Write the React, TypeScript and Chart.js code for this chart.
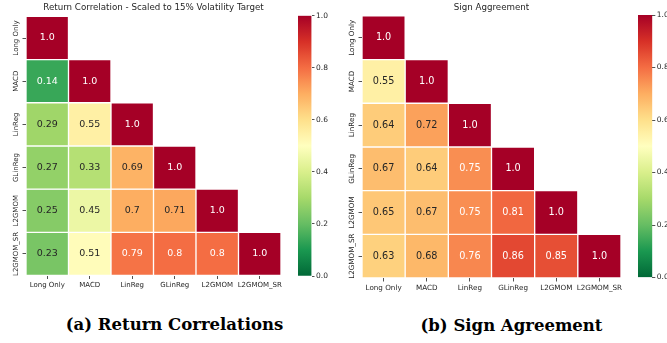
import React, { useEffect, useRef } from 'react';
import { Chart, registerables } from 'chart.js';

Chart.register(...registerables);

// Strategy names shared by both matrices (rows top→bottom, columns left→right)
const strategies = ['Long Only', 'MACD', 'LinReg', 'GLinReg', 'L2GMOM', 'L2GMOM_SR'];

// Lower-triangular matrices, one row per strategy
const returnCorrelation = [
  [1.0],
  [0.14, 1.0],
  [0.29, 0.55, 1.0],
  [0.27, 0.33, 0.69, 1.0],
  [0.25, 0.45, 0.7, 0.71, 1.0],
  [0.23, 0.51, 0.79, 0.8, 0.8, 1.0],
];

const signAgreement = [
  [1.0],
  [0.55, 1.0],
  [0.64, 0.72, 1.0],
  [0.67, 0.64, 0.75, 1.0],
  [0.65, 0.67, 0.75, 0.81, 1.0],
  [0.63, 0.68, 0.76, 0.86, 0.85, 1.0],
];

const colorbarTicks = [0, 0.2, 0.4, 0.6, 0.8, 1.0];

// RdYlGn anchor colours, used reversed (low = green, high = red)
const rdYlGn = [
  '#a50026', '#d73027', '#f46d43', '#fdae61', '#fee08b', '#ffffbf',
  '#d9ef8b', '#a6d96a', '#66bd63', '#1a9850', '#006837',
];

const TEXT_DARK = '#262626';
const SANS = "'DejaVu Sans', sans-serif";

function hexToRgb(h: string): number[] {
  return [parseInt(h.slice(1, 3), 16), parseInt(h.slice(3, 5), 16), parseInt(h.slice(5, 7), 16)];
}

function rdYlGnR(v: number): number[] {
  const t = 1 - Math.min(1, Math.max(0, v));
  const pos = t * (rdYlGn.length - 1);
  const i = Math.min(rdYlGn.length - 2, Math.floor(pos));
  const f = pos - i;
  const a = hexToRgb(rdYlGn[i]);
  const b = hexToRgb(rdYlGn[i + 1]);
  return a.map((c, k) => c + (b[k] - c) * f);
}

const toCss = (c: number[]) => `rgb(${c.map((x) => Math.round(x)).join(',')})`;

// Light cells get dark text, dark cells get white text
function textColorFor(c: number[]): string {
  const lin = c.map((x) => {
    const s = x / 255;
    return s <= 0.03928 ? s / 12.92 : Math.pow((s + 0.055) / 1.055, 2.4);
  });
  const lum = 0.2126 * lin[0] + 0.7152 * lin[1] + 0.0722 * lin[2];
  return lum > 0.408 ? TEXT_DARK : '#ffffff';
}

const fmt = (v: number) => (Number.isInteger(v) ? v.toFixed(1) : String(v));

type HeatmapProps = {
  rows: number[][];
  title: string;
  left: number;
  width: number;
  height: number;
  leftW: number;
  bottomH: number;
  rightPad: number;
  titlePadTop: number;
  tickSize: number;
  valueSize: number;
};

function Heatmap(p: HeatmapProps) {
  const ref = useRef<HTMLCanvasElement>(null);

  useEffect(() => {
    const canvas = ref.current;
    if (!canvas) return;

    const datasets = p.rows.map((row, i) => ({
      label: strategies[i],
      data: strategies.map((_, j) => (j < row.length ? [i, i + 1] : null)),
      backgroundColor: strategies.map((_, j) =>
        j < row.length ? toCss(rdYlGnR(row[j])) : 'rgba(0,0,0,0)'
      ),
      borderColor: '#ffffff',
      borderWidth: 1,
      borderSkipped: false,
      grouped: false,
      categoryPercentage: 1,
      barPercentage: 1,
    }));

    const cellText = {
      id: 'cellText',
      afterDatasetsDraw(chart: any) {
        const ctx = chart.ctx;
        ctx.save();
        ctx.font = `${p.valueSize}px ${SANS}`;
        ctx.textAlign = 'center';
        ctx.textBaseline = 'middle';
        p.rows.forEach((row, i) => {
          const meta = chart.getDatasetMeta(i);
          row.forEach((v, j) => {
            const el = meta.data[j];
            if (!el) return;
            const { x, y, base } = el.getProps(['x', 'y', 'base'], true);
            ctx.fillStyle = textColorFor(rdYlGnR(v));
            ctx.fillText(fmt(v), x, (y + base) / 2);
          });
        });
        ctx.restore();
      },
    };

    // Row names, rotated to read bottom-to-top beside the y ticks
    const rowLabels = {
      id: 'rowLabels',
      afterDraw(chart: any) {
        const ctx = chart.ctx;
        const yScale = chart.scales.y;
        const x = chart.chartArea.left - 10;
        ctx.save();
        ctx.font = `${p.tickSize}px ${SANS}`;
        ctx.fillStyle = TEXT_DARK;
        ctx.textAlign = 'center';
        ctx.textBaseline = 'middle';
        strategies.forEach((name, i) => {
          ctx.save();
          ctx.translate(x, yScale.getPixelForValue(i + 0.5));
          ctx.rotate(-Math.PI / 2);
          ctx.fillText(name, 0, 0);
          ctx.restore();
        });
        ctx.restore();
      },
    };

    const chart = new Chart(canvas, {
      type: 'bar',
      data: { labels: strategies, datasets: datasets as any },
      options: {
        animation: false,
        responsive: false,
        maintainAspectRatio: false,
        layout: { padding: { left: 0, right: p.rightPad, top: 0, bottom: 0 } },
        plugins: {
          legend: { display: false },
          tooltip: { enabled: false },
          title: {
            display: true,
            text: p.title,
            fullSize: false,
            color: TEXT_DARK,
            font: { family: SANS, size: 8.7, weight: 'normal' },
            padding: { top: p.titlePadTop, bottom: 3 },
          },
        },
        scales: {
          x: {
            type: 'category',
            offset: true,
            border: { display: false },
            grid: {
              display: true,
              drawOnChartArea: false,
              drawTicks: true,
              tickLength: 3.5,
              tickWidth: 0.8,
              tickColor: TEXT_DARK,
              offset: false,
            },
            ticks: {
              color: TEXT_DARK,
              font: { family: SANS, size: p.tickSize },
              padding: 2,
              autoSkip: false,
              minRotation: 0,
              maxRotation: 0,
            },
            afterFit: (s: any) => {
              s.height = p.bottomH;
            },
          },
          y: {
            type: 'linear',
            min: 0,
            max: strategies.length,
            reverse: true,
            border: { display: false },
            grid: {
              display: true,
              drawOnChartArea: false,
              drawTicks: true,
              tickLength: 3.5,
              tickWidth: 0.8,
              tickColor: TEXT_DARK,
            },
            ticks: { display: false },
            afterBuildTicks: (s: any) => {
              s.ticks = strategies.map((_, i) => ({ value: i + 0.5 }));
            },
            afterFit: (s: any) => {
              s.width = p.leftW;
            },
          },
        },
      },
      plugins: [cellText, rowLabels],
    } as any);

    return () => chart.destroy();
  }, []);

  return (
    <canvas
      ref={ref}
      width={p.width}
      height={p.height}
      style={{ position: 'absolute', left: p.left, top: 0, width: p.width, height: p.height }}
    />
  );
}

type ColorbarProps = {
  left: number;
  width: number;
  height: number;
  axisW: number;
  top: number;
  bottom: number;
};

function Colorbar(p: ColorbarProps) {
  const ref = useRef<HTMLCanvasElement>(null);

  useEffect(() => {
    const canvas = ref.current;
    if (!canvas) return;

    const gradientFill = (ctx: any) => {
      const { chart } = ctx;
      const area = chart.chartArea;
      if (!area) return 'rgba(0,0,0,0)';
      const g = chart.ctx.createLinearGradient(0, area.bottom, 0, area.top);
      const n = 40;
      for (let k = 0; k <= n; k++) {
        const v = k / n;
        g.addColorStop(v, toCss(rdYlGnR(v)));
      }
      return g;
    };

    const chart = new Chart(canvas, {
      type: 'bar',
      data: {
        labels: ['scale'],
        datasets: [
          {
            data: [[colorbarTicks[0], colorbarTicks[colorbarTicks.length - 1]]],
            backgroundColor: gradientFill,
            borderWidth: 0,
            categoryPercentage: 1,
            barPercentage: 1,
          },
        ],
      },
      options: {
        animation: false,
        responsive: false,
        maintainAspectRatio: false,
        layout: { padding: { left: 0, right: 0, top: p.top, bottom: p.height - p.bottom } },
        plugins: { legend: { display: false }, tooltip: { enabled: false }, title: { display: false } },
        scales: {
          x: { display: false },
          y: {
            type: 'linear',
            position: 'right',
            min: colorbarTicks[0],
            max: colorbarTicks[colorbarTicks.length - 1],
            border: { display: false },
            grid: {
              display: true,
              drawOnChartArea: false,
              drawTicks: true,
              tickLength: 3,
              tickWidth: 0.8,
              tickColor: TEXT_DARK,
            },
            ticks: {
              color: TEXT_DARK,
              font: { family: SANS, size: 7.5 },
              padding: 1.5,
              stepSize: 0.2,
              callback: (v: any) => Number(v).toFixed(1),
            },
            afterBuildTicks: (s: any) => {
              s.ticks = colorbarTicks.map((v) => ({ value: v }));
            },
            afterFit: (s: any) => {
              s.width = p.axisW;
            },
          },
        },
      },
    } as any);

    return () => chart.destroy();
  }, []);

  return (
    <canvas
      ref={ref}
      width={p.width}
      height={p.height}
      style={{ position: 'absolute', left: p.left, top: 0, width: p.width, height: p.height }}
    />
  );
}

const captionStyle = (centerX: number, centerY: number): React.CSSProperties => ({
  position: 'absolute',
  left: centerX - 150,
  top: centerY - 10,
  width: 300,
  height: 20,
  lineHeight: '20px',
  textAlign: 'center',
  fontFamily: "'DejaVu Serif', serif",
  fontWeight: 'bold',
  fontSize: 16.5,
  color: '#000',
  whiteSpace: 'nowrap',
});

export default function App() {
  return (
    <div
      style={{
        position: 'fixed',
        left: 0,
        top: 0,
        width: 667,
        height: 343,
        background: '#ffffff',
        overflow: 'hidden',
      }}
    >
      <Heatmap
        rows={returnCorrelation}
        title="Return Correlation - Scaled to 15% Volatility Target"
        left={0}
        width={290}
        height={296}
        leftW={26}
        bottomH={20.5}
        rightPad={9}
        titlePadTop={3}
        tickSize={7}
        valueSize={9.5}
      />
      <Colorbar left={298} width={36} height={296} axisW={22.5} top={15.7} bottom={276} />
      <div style={captionStyle(174.5, 324.5)}>(a) Return Correlations</div>

      <Heatmap
        rows={signAgreement}
        title="Sign Aggreement"
        left={336}
        width={294}
        height={298}
        leftW={26}
        bottomH={20}
        rightPad={9}
        titlePadTop={2.5}
        tickSize={7.2}
        valueSize={9.7}
      />
      <Colorbar left={638} width={29} height={298} axisW={14.7} top={15} bottom={277.5} />
      <div style={captionStyle(511.5, 326)}>(b) Sign Agreement</div>
    </div>
  );
}
